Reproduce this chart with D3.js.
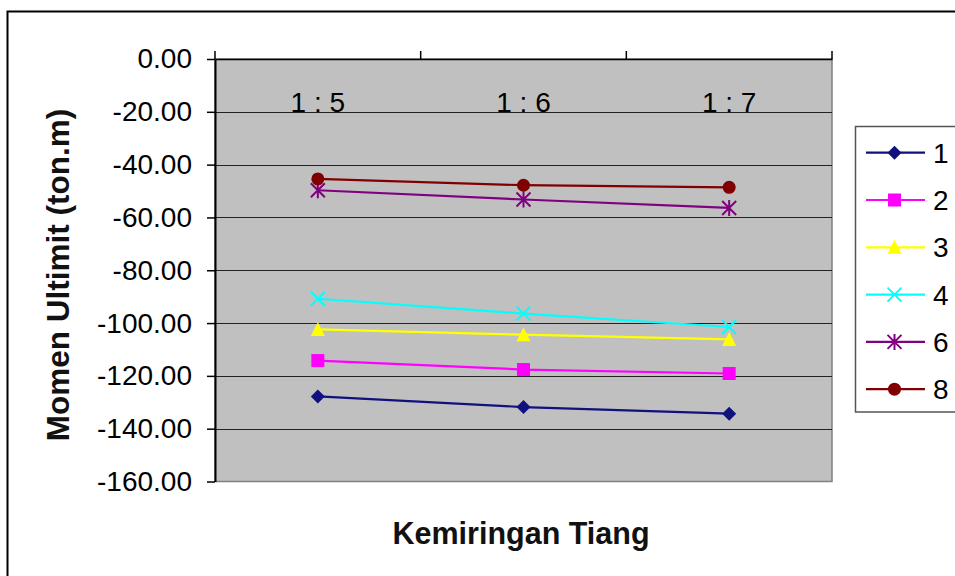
<!DOCTYPE html>
<html>
<head>
<meta charset="utf-8">
<script src="https://cdn.jsdelivr.net/npm/d3@7/dist/d3.min.js"></script>
<style>
  html, body { margin: 0; padding: 0; background: #ffffff; }
  svg { display: block; font-family: "Liberation Sans", Arial, sans-serif; }
</style>
</head>
<body>
<svg id="chart" width="955" height="576"></svg>
<script>
// Kemiringan tiang (pile inclination) categories
const categories = ["1 : 5", "1 : 6", "1 : 7"];

// Series names (legend) and ultimate moment values (ton.m)
const seriesNames = ["1", "2", "3", "4", "6", "8"];
const series1 = [-127.8, -131.8, -134.3];
const series2 = [-114.2, -117.6, -119.1];
const series3 = [-102.4, -104.4, -106.2];
const series4 = [-90.8, -96.4, -101.5];
const series6 = [-49.7, -53.2, -56.4];
const series8 = [-45.4, -47.8, -48.6];

// Y axis tick values
const yTicks = [0, -20, -40, -60, -80, -100, -120, -140, -160];

const seriesValues = [series1, series2, series3, series4, series6, series8];
const colors = ["#10107f", "#ff00ff", "#ffff00", "#00ffff", "#800080", "#800000"];
const markers = ["diamond", "square", "triangle", "x", "star", "circle"];

const svg = d3.select("#chart");

// Marker shapes, centred on (0,0)
function markerPath(type) {
  switch (type) {
    case "diamond": return "M0,-7L7,0L0,7L-7,0Z";
    case "square": return "M-6.5,-6.5H6.5V6.5H-6.5Z";
    case "triangle": return "M0,-7.5L7,6.5L-7,6.5Z";
    case "x": return "M-7,-7L7,7M-7,7L7,-7";
    case "star": return "M-7,-7L7,7M-7,7L7,-7M0,-8V8";
    default: return null;
  }
}
function drawMarker(g, type, color) {
  if (type === "circle") {
    g.append("circle").attr("r", 6.5).attr("fill", color);
  } else if (type === "x" || type === "star") {
    g.append("path").attr("d", markerPath(type))
      .attr("fill", "none").attr("stroke", color).attr("stroke-width", 2);
  } else {
    g.append("path").attr("d", markerPath(type)).attr("fill", color);
  }
}

// Outer chart frame
svg.append("rect")
  .attr("x", 7.5).attr("y", 11.5).attr("width", 990).attr("height", 600)
  .attr("fill", "#ffffff").attr("stroke", "#000000").attr("stroke-width", 2);

const plot = { left: 215, right: 832, top: 59, bottom: 481.5 };

const x = d3.scaleBand().domain(categories).range([plot.left, plot.right]).padding(0);
const y = d3.scaleLinear().domain([-160, 0]).range([plot.bottom, plot.top]);

// Plot area background
svg.append("rect")
  .attr("x", plot.left).attr("y", plot.top)
  .attr("width", plot.right - plot.left).attr("height", plot.bottom - plot.top)
  .attr("fill", "#c0c0c0")
  .attr("stroke", "#808080").attr("stroke-width", 1.5);

// Horizontal gridlines
svg.append("g")
  .selectAll("line")
  .data(yTicks.filter(d => d !== 0 && d !== -160))
  .join("line")
  .attr("x1", plot.left).attr("x2", plot.right)
  .attr("y1", d => Math.round(y(d)) + 0.5).attr("y2", d => Math.round(y(d)) + 0.5)
  .attr("stroke", "#222222").attr("stroke-width", 1.2);

// Value axis (left)
const yAxis = svg.append("g")
  .attr("transform", `translate(${plot.left},0)`)
  .call(d3.axisLeft(y).tickValues(yTicks).tickFormat(d => d.toFixed(2))
    .tickSizeInner(8).tickSizeOuter(0).tickPadding(15));
yAxis.select(".domain").attr("stroke", "#000").attr("stroke-width", 2);
yAxis.selectAll(".tick line").attr("stroke", "#000").attr("stroke-width", 1.5);
yAxis.selectAll(".tick text")
  .attr("font-size", 28).attr("fill", "#000")
  .attr("font-family", "'Liberation Sans', Arial, sans-serif");

// Category axis crossing at zero
const xAxis = svg.append("g")
  .attr("transform", `translate(0,${y(0)})`)
  .call(d3.axisBottom(x).tickSize(0).tickPadding(0));
xAxis.select(".domain").attr("stroke", "#000").attr("stroke-width", 1.5);
xAxis.selectAll(".tick text")
  .attr("font-size", 28).attr("fill", "#000")
  .attr("dy", null).attr("y", 53)
  .attr("font-family", "'Liberation Sans', Arial, sans-serif");

// Category boundary tick marks above the axis line
const bounds = categories.map(c => x(c)).concat([x(categories[categories.length - 1]) + x.bandwidth()]);
svg.append("g").selectAll("line").data(bounds).join("line")
  .attr("x1", d => d).attr("x2", d => d)
  .attr("y1", y(0) - 8).attr("y2", y(0))
  .attr("stroke", "#000").attr("stroke-width", 1.5);

// Series lines and markers
const line = d3.line()
  .x((d, i) => x(categories[i]) + x.bandwidth() / 2)
  .y(d => y(d));

seriesValues.forEach((vals, si) => {
  const g = svg.append("g");
  g.append("path").datum(vals)
    .attr("d", line).attr("fill", "none")
    .attr("stroke", colors[si]).attr("stroke-width", 2.2);
  vals.forEach((v, i) => {
    const mg = g.append("g")
      .attr("transform", `translate(${x(categories[i]) + x.bandwidth() / 2},${y(v)})`);
    drawMarker(mg, markers[si], colors[si]);
  });
});

// Axis titles
svg.append("text")
  .attr("transform", `translate(69,275) rotate(-90)`)
  .attr("text-anchor", "middle")
  .attr("font-size", 31.5).attr("font-weight", "bold").attr("fill", "#111")
  .text("Momen Ultimit (ton.m)");

svg.append("text")
  .attr("x", 521).attr("y", 544)
  .attr("text-anchor", "middle")
  .attr("font-size", 30.5).attr("font-weight", "bold").attr("fill", "#111")
  .text("Kemiringan Tiang");

// Legend
const legend = svg.append("g");
legend.append("rect")
  .attr("x", 855.5).attr("y", 126.5).attr("width", 140).attr("height", 285.5)
  .attr("fill", "#ffffff").attr("stroke", "#555555").attr("stroke-width", 1.5);

seriesNames.forEach((name, si) => {
  const cy = 152.7 + si * 47.3;
  const item = legend.append("g");
  item.append("line")
    .attr("x1", 866).attr("x2", 925).attr("y1", cy).attr("y2", cy)
    .attr("stroke", colors[si]).attr("stroke-width", 2.2);
  const mg = item.append("g").attr("transform", `translate(894.5,${cy})`);
  drawMarker(mg, markers[si], colors[si]);
  item.append("text")
    .attr("x", 933).attr("y", cy + 10)
    .attr("font-size", 28).attr("fill", "#000")
    .text(name);
});
</script>
</body>
</html>
